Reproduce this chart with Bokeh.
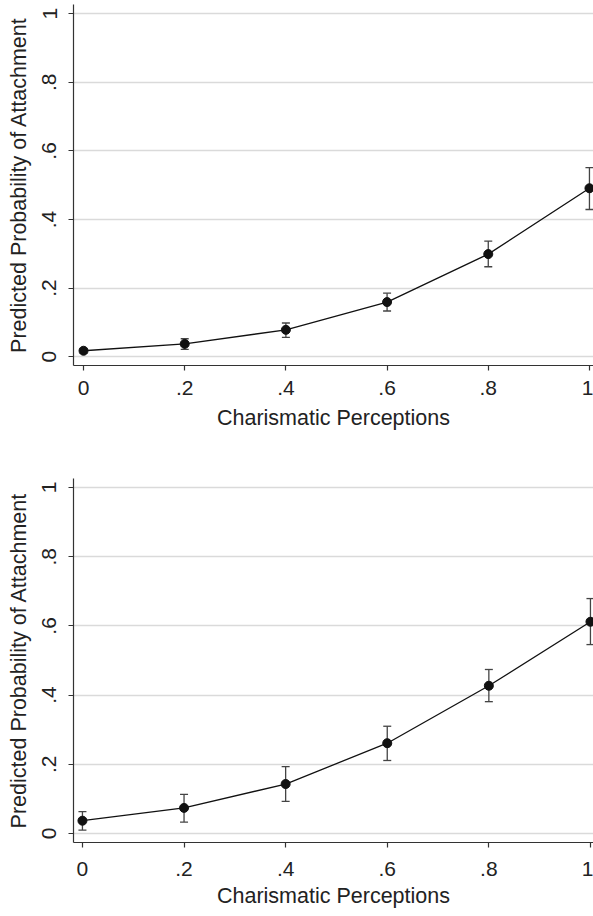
from bokeh.plotting import figure
from bokeh.models import ColumnDataSource, Whisker, TeeHead, FixedTicker, CustomJSTickFormatter, Range1d
from bokeh.layouts import column
from bokeh.embed import file_html
from bokeh.resources import INLINE

x_vals = [0.0, 0.2, 0.4, 0.6, 0.8, 1.0]

top_prob = [0.017, 0.037, 0.078, 0.159, 0.299, 0.491]
top_upper = [0.022, 0.052, 0.098, 0.185, 0.337, 0.551]
top_lower = [0.010, 0.021, 0.056, 0.133, 0.262, 0.429]

bottom_prob = [0.037, 0.074, 0.143, 0.261, 0.427, 0.612]
bottom_upper = [0.063, 0.113, 0.193, 0.310, 0.474, 0.679]
bottom_lower = [0.010, 0.033, 0.093, 0.211, 0.381, 0.546]

x_ticks = [0, 0.2, 0.4, 0.6, 0.8, 1.0]
y_ticks = [0, 0.2, 0.4, 0.6, 0.8, 1.0]

x_title = "Charismatic Perceptions"
y_title = "Predicted Probability of Attachment"

FONT = "Liberation Sans"
fmt_code = """
if (Math.abs(tick) < 1e-9) return '0';
if (Math.abs(tick - 1) < 1e-9) return '1';
return tick.toFixed(1).replace(/^0/, '');
"""


def make_plot(prob, upper, lower, border_left, border_top, frame_h, border_bottom,
              x_start, x_end, y_start, y_end, xlab_standoff, xtitle_standoff):
    src = ColumnDataSource(dict(x=x_vals, y=prob, upper=upper, lower=lower))
    p = figure(width=593, height=border_top + frame_h + border_bottom,
               output_backend="svg", toolbar_location=None,
               x_range=Range1d(x_start, x_end), y_range=Range1d(y_start, y_end),
               min_border_left=border_left, min_border_right=0,
               min_border_top=border_top, min_border_bottom=border_bottom)
    p.outline_line_color = None
    p.background_fill_color = "white"
    p.border_fill_color = "white"

    p.xgrid.visible = False
    p.ygrid.grid_line_color = "#dadada"
    p.ygrid.grid_line_width = 1.5

    for ax in (p.xaxis[0], p.yaxis[0]):
        ax.axis_line_color = "#333333"
        ax.axis_line_width = 1.2
        ax.major_tick_line_color = "#333333"
        ax.major_tick_line_width = 1.2
        ax.major_tick_out = 5
        ax.major_tick_in = 0
        ax.minor_tick_line_color = None
        ax.major_label_text_font = FONT
        ax.major_label_text_font_size = "21px"
        ax.major_label_text_color = "#222222"
        ax.axis_label_text_font = FONT
        ax.axis_label_text_font_size = "21.5px"
        ax.axis_label_text_font_style = "normal"
        ax.axis_label_text_color = "#222222"
        ax.formatter = CustomJSTickFormatter(code=fmt_code)

    p.xaxis.ticker = FixedTicker(ticks=x_ticks)
    p.yaxis.ticker = FixedTicker(ticks=y_ticks)
    p.xaxis.axis_label = x_title
    p.yaxis.axis_label = y_title
    p.yaxis.major_label_orientation = "vertical"
    p.xaxis.major_label_standoff = xlab_standoff
    p.xaxis.axis_label_standoff = xtitle_standoff
    p.yaxis.major_label_standoff = 12
    p.yaxis.axis_label_standoff = 9

    w = Whisker(source=src, base="x", upper="upper", lower="lower",
                line_color="#444444", line_width=1.3,
                upper_head=TeeHead(size=8, line_color="#444444", line_width=1.3),
                lower_head=TeeHead(size=8, line_color="#444444", line_width=1.3))
    p.add_layout(w)
    p.line("x", "y", source=src, line_color="#111111", line_width=1.3)
    p.scatter("x", "y", source=src, size=9, fill_color="#111111", line_color="#111111")
    return p


p1 = make_plot(top_prob, top_upper, top_lower, 73, 4, 361, 85,
               -0.0198, 1.008, -0.026, 1.027, 10, 8)
p2 = make_plot(bottom_prob, bottom_upper, bottom_lower, 71, 28, 364, 74,
               -0.0176, 1.006, -0.026, 1.026, 14, 5)

layout = column(p1, p2, spacing=0)
open("out.html", "w").write(file_html(layout, INLINE))
